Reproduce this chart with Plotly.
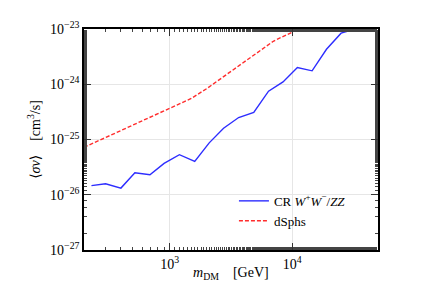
import plotly.graph_objects as go

# Data
cr_mass = [230, 300, 400, 520, 690, 900, 1200, 1600, 2100, 2750, 3650, 4850,
           6400, 8400, 11000, 14500, 19000, 25000, 32500]
cr_sigv = [1.46e-26, 1.58e-26, 1.32e-26, 2.5e-26, 2.3e-26, 3.7e-26, 5.3e-26, 4.0e-26,
           8.7e-26, 1.6e-25, 2.5e-25, 3.1e-25, 7.5e-25, 1.1e-24, 2.0e-24, 1.75e-24,
           4.3e-24, 8.4e-24, 1.0e-23]

dsph_mass = [200, 300, 500, 700, 1000, 1500, 2000, 3000, 5000, 7000, 10000, 13000]
dsph_sigv = [7.2e-26, 1.08e-25, 1.82e-25, 2.56e-25, 3.67e-25, 5.54e-25, 8.3e-25,
             1.58e-24, 3.55e-24, 6.0e-24, 8.8e-24, 1.3e-23]

y_tickvals = [1e-27, 1e-26, 1e-25, 1e-24, 1e-23]
y_ticktext = ["10<sup>−27</sup>", "10<sup>−26</sup>", "10<sup>−25</sup>",
              "10<sup>−24</sup>", "10<sup>−23</sup>"]
x_tickvals = [1e3, 1e4]
x_ticktext = ["10<sup>3</sup>", "10<sup>4</sup>"]

FONT = "Liberation Serif, DejaVu Serif, serif"

fig = go.Figure()
fig.add_trace(go.Scatter(
    x=cr_mass, y=cr_sigv, mode="lines",
    line=dict(color="rgb(45,45,255)", width=1.4),
    name="CR <i>W</i><sup>+</sup><i>W</i><sup>−</sup>/<i>ZZ</i>",
))
fig.add_trace(go.Scatter(
    x=dsph_mass, y=dsph_sigv, mode="lines",
    line=dict(color="rgb(255,45,45)", width=1.4, dash="4px,2px"),
    name="dSphs",
))

axis_common = dict(
    type="log",
    showline=True, linecolor="black", linewidth=1.5, mirror="ticks",
    ticks="inside", ticklen=7, tickwidth=1.2, tickcolor="#333",
    showgrid=True, gridcolor="#e6e6e6", gridwidth=1,
    zeroline=False, automargin=False,
    minor=dict(ticks="inside", ticklen=3.5, tickwidth=0.8, tickcolor="#444", showgrid=False),
    tickfont=dict(family=FONT, size=14, color="black"),
)

fig.update_layout(
    width=413, height=287,
    margin=dict(l=76, r=43, t=21, b=45),
    paper_bgcolor="white", plot_bgcolor="white",
    font=dict(family=FONT, size=14, color="black"),
    xaxis=dict(
        **axis_common,
        range=[2.301, 4.699],
        tickvals=x_tickvals, ticktext=x_ticktext,
    ),
    yaxis=dict(
        **axis_common,
        range=[-27, -23],
        tickvals=y_tickvals, ticktext=y_ticktext,
        title=dict(text="⟨<i>σv</i>⟩    [cm<sup>3</sup>/s]", font=dict(family=FONT, size=14), standoff=6),
    ),
    legend=dict(
        x=0.51, y=0.29, xanchor="left", yanchor="top",
        bgcolor="rgba(0,0,0,0)", borderwidth=0,
        font=dict(family=FONT, size=13),
        tracegroupgap=0, itemwidth=30,
    ),
    showlegend=True,
    annotations=[dict(
        text="<i>m</i><sub>DM</sub>    [GeV]", xref="paper", yref="paper",
        x=0.5, y=-0.105, xanchor="center", yanchor="middle", showarrow=False,
        font=dict(family=FONT, size=14),
    )],
)

fig.write_html("out.html")
